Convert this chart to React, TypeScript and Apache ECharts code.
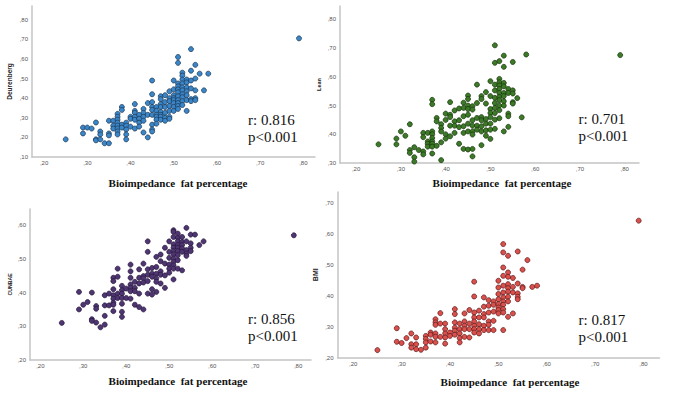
import React, { useEffect, useRef } from "react";
import * as echarts from "echarts";

// ---- Data ----
const xTicks = [0.2, 0.3, 0.4, 0.5, 0.6, 0.7, 0.8];
const xTitle = "Bioimpedance  fat percentage";

type Col = [number, number[]];

const deurenbergCols: Col[] = [
  [0.25, [0.19]], [0.29, [0.25, 0.22]], [0.30, [0.25]], [0.31, [0.245]],
  [0.32, [0.276, 0.19, 0.185]], [0.33, [0.23, 0.215, 0.19]], [0.34, [0.17]],
  [0.35, [0.17, 0.22, 0.21, 0.285]], [0.36, [0.285, 0.26, 0.245]],
  [0.37, [0.32, 0.305, 0.29, 0.275, 0.26, 0.245, 0.23, 0.215]],
  [0.38, [0.355, 0.34, 0.265, 0.25]], [0.39, [0.275, 0.26, 0.24, 0.215, 0.19]],
  [0.40, [0.305, 0.295, 0.255]], [0.41, [0.37, 0.335, 0.325, 0.305, 0.29, 0.245]],
  [0.42, [0.315, 0.295, 0.275, 0.255]], [0.43, [0.345, 0.325, 0.305, 0.285, 0.225]],
  [0.44, [0.375, 0.315, 0.2]], [0.45, [0.49, 0.42, 0.38, 0.355, 0.34, 0.315, 0.265, 0.24, 0.23]],
  [0.46, [0.355, 0.335, 0.315, 0.305, 0.29, 0.27]],
  [0.47, [0.41, 0.395, 0.37, 0.355, 0.33, 0.315, 0.305, 0.29]],
  [0.48, [0.415, 0.38, 0.355, 0.325, 0.3, 0.285]],
  [0.49, [0.435, 0.4, 0.385, 0.36, 0.335, 0.305, 0.295]],
  [0.50, [0.49, 0.445, 0.415, 0.4, 0.39, 0.375, 0.355, 0.335]],
  [0.51, [0.61, 0.58, 0.475, 0.46, 0.445, 0.43, 0.41, 0.39, 0.375, 0.36, 0.345]],
  [0.52, [0.53, 0.515, 0.495, 0.475, 0.455, 0.44, 0.42, 0.405, 0.385, 0.365]],
  [0.53, [0.495, 0.48, 0.455, 0.435, 0.415, 0.39, 0.335]],
  [0.54, [0.65, 0.54, 0.49, 0.45, 0.395, 0.385]], [0.55, [0.57, 0.5, 0.44, 0.4, 0.39]],
  [0.56, [0.525]], [0.57, [0.44]], [0.58, [0.525]], [0.79, [0.705]],
];

const leanCols: Col[] = [
  [0.25, [0.365]], [0.29, [0.385, 0.365]], [0.30, [0.41]], [0.31, [0.395]],
  [0.32, [0.435, 0.345, 0.335]], [0.33, [0.355, 0.32, 0.305]], [0.34, [0.345]],
  [0.35, [0.405, 0.39, 0.34, 0.33]], [0.36, [0.405, 0.375, 0.367, 0.357]],
  [0.37, [0.52, 0.505, 0.41, 0.4, 0.387, 0.375, 0.367, 0.357, 0.333]],
  [0.38, [0.457, 0.445, 0.36]], [0.39, [0.435, 0.422, 0.41, 0.372, 0.31]],
  [0.40, [0.472, 0.45, 0.4, 0.385]], [0.41, [0.512, 0.468, 0.46, 0.43, 0.393]],
  [0.42, [0.483, 0.445, 0.43, 0.405]], [0.43, [0.49, 0.449, 0.425, 0.367]],
  [0.44, [0.51, 0.492, 0.463, 0.428, 0.405, 0.349]],
  [0.45, [0.535, 0.523, 0.5, 0.488, 0.468, 0.437, 0.41, 0.347]],
  [0.46, [0.498, 0.486, 0.449, 0.43, 0.41, 0.399, 0.349, 0.323]],
  [0.47, [0.573, 0.509, 0.457, 0.43, 0.416]],
  [0.48, [0.533, 0.523, 0.46, 0.449, 0.428, 0.41, 0.362]],
  [0.49, [0.547, 0.507, 0.453, 0.437, 0.414, 0.395]],
  [0.50, [0.585, 0.533, 0.488, 0.474, 0.46, 0.437, 0.416, 0.384]],
  [0.51, [0.71, 0.649, 0.573, 0.553, 0.527, 0.509, 0.492, 0.474, 0.451, 0.419]],
  [0.52, [0.655, 0.593, 0.581, 0.57, 0.558, 0.544, 0.53, 0.519, 0.5, 0.484, 0.456]],
  [0.53, [0.674, 0.635, 0.579, 0.567, 0.544, 0.533, 0.515, 0.5, 0.41]],
  [0.54, [0.558, 0.544, 0.472, 0.463, 0.426]],
  [0.55, [0.652, 0.553, 0.542, 0.512, 0.507]],
  [0.56, [0.526]], [0.57, [0.459]], [0.58, [0.678]], [0.79, [0.676]],
];

const cunbaeCols: Col[] = [
  [0.25, [0.31]], [0.29, [0.402, 0.35]], [0.30, [0.364]], [0.31, [0.372]],
  [0.32, [0.4, 0.321, 0.316]], [0.33, [0.36, 0.352, 0.311]], [0.34, [0.297]],
  [0.35, [0.392, 0.362, 0.331, 0.305]], [0.36, [0.397, 0.362]],
  [0.37, [0.444, 0.434, 0.41, 0.392, 0.382, 0.37, 0.364, 0.345]],
  [0.38, [0.471, 0.447, 0.397, 0.384]],
  [0.39, [0.42, 0.407, 0.397, 0.384, 0.367, 0.343, 0.328]],
  [0.40, [0.412, 0.384]], [0.41, [0.483, 0.463, 0.444, 0.424, 0.414, 0.404, 0.382]],
  [0.42, [0.432, 0.414, 0.404, 0.364]], [0.43, [0.469, 0.444, 0.427, 0.397, 0.357]],
  [0.44, [0.486, 0.449, 0.442, 0.43, 0.35]],
  [0.45, [0.552, 0.521, 0.469, 0.453, 0.434, 0.397]],
  [0.46, [0.473, 0.456, 0.447, 0.41, 0.394]],
  [0.47, [0.506, 0.476, 0.456, 0.442, 0.432, 0.402]],
  [0.48, [0.513, 0.493, 0.463, 0.453, 0.427]],
  [0.49, [0.533, 0.486, 0.451, 0.414]],
  [0.50, [0.552, 0.521, 0.503, 0.483, 0.471, 0.459]],
  [0.51, [0.585, 0.58, 0.565, 0.543, 0.533, 0.523, 0.513, 0.501, 0.491, 0.481, 0.471, 0.439]],
  [0.52, [0.575, 0.562, 0.552, 0.541, 0.533, 0.523, 0.511, 0.496, 0.471]],
  [0.53, [0.565, 0.55, 0.541, 0.531, 0.521, 0.466]],
  [0.54, [0.592, 0.552, 0.526, 0.516, 0.509]],
  [0.55, [0.572, 0.546, 0.533, 0.523]],
  [0.56, [0.572]], [0.57, [0.541]], [0.58, [0.552]], [0.79, [0.57]],
];

const bmiCols: Col[] = [
  [0.25, [0.224]], [0.29, [0.295, 0.251]], [0.30, [0.247]], [0.31, [0.263]],
  [0.32, [0.278, 0.243, 0.232]], [0.33, [0.265, 0.243, 0.227]], [0.34, [0.225]],
  [0.35, [0.27, 0.26, 0.249, 0.232]], [0.36, [0.281, 0.274, 0.252]],
  [0.37, [0.324, 0.314, 0.306, 0.278, 0.267, 0.249]], [0.38, [0.344, 0.31, 0.267]],
  [0.39, [0.31, 0.292, 0.278, 0.265, 0.245]], [0.40, [0.281, 0.27]],
  [0.41, [0.357, 0.341, 0.314, 0.297, 0.287, 0.274]],
  [0.42, [0.31, 0.292, 0.278, 0.263, 0.249]], [0.43, [0.343, 0.317, 0.303, 0.292, 0.267]],
  [0.44, [0.354, 0.31, 0.292, 0.265]],
  [0.45, [0.446, 0.398, 0.346, 0.33, 0.317, 0.303, 0.292, 0.281]],
  [0.46, [0.352, 0.33, 0.308, 0.292, 0.278]],
  [0.47, [0.395, 0.365, 0.341, 0.33, 0.303, 0.289]],
  [0.48, [0.386, 0.368, 0.346, 0.317, 0.306, 0.289]],
  [0.49, [0.382, 0.371, 0.349, 0.319, 0.289]],
  [0.50, [0.449, 0.427, 0.406, 0.389, 0.373, 0.362, 0.354, 0.343]],
  [0.51, [0.568, 0.541, 0.492, 0.465, 0.433, 0.411, 0.395, 0.382, 0.371, 0.357, 0.346, 0.289]],
  [0.52, [0.53, 0.476, 0.462, 0.438, 0.425, 0.414, 0.397, 0.382, 0.332]],
  [0.53, [0.458, 0.429, 0.411, 0.343]], [0.54, [0.544, 0.44, 0.408, 0.397, 0.389]],
  [0.55, [0.485, 0.429, 0.425]], [0.56, [0.516]], [0.57, [0.429]], [0.58, [0.433]],
  [0.79, [0.644]],
];

const yTicksDeurenberg = [0.1, 0.2, 0.3, 0.4, 0.5, 0.6, 0.7, 0.8];
const yTicksLean = [0.3, 0.4, 0.5, 0.6, 0.7, 0.8];
const yTicksCunbae = [0.2, 0.3, 0.4, 0.5, 0.6];
const yTicksBmi = [0.2, 0.3, 0.4, 0.5, 0.6, 0.7];

const rValues = ["r: 0.816", "r: 0.701", "r: 0.856", "r: 0.817"];
const pValues = ["p<0.001", "p<0.001", "p<0.001", "p<0.001"];
const yNames = ["Deurenberg", "Lean", "CUNBAE", "BMI"];

// ---- Layout / style ----
const panels = [
  { grid: { left: 32, top: 6, width: 283, height: 151 }, x: [0.172, 0.827], y: [0.1, 0.87], yTicks: yTicksDeurenberg, cols: deurenbergCols, fill: "#3a86c9", border: "#1b3550", nameSize: 6.5, nameGap: 19, title: [178, 183], rp: [248, 120] },
  { grid: { left: 340, top: 6, width: 299, height: 157 }, x: [0.164, 0.832], y: [0.3, 0.847], yTicks: yTicksLean, cols: leanCols, fill: "#3c7a27", border: "#16300c", nameSize: 5.5, nameGap: 18, title: [502, 182.7], rp: [578.5, 119] },
  { grid: { left: 30, top: 209, width: 281, height: 151 }, x: [0.176, 0.83], y: [0.2, 0.648], yTicks: yTicksCunbae, cols: cunbaeCols, fill: "#4f3672", border: "#24163a", nameSize: 5.2, nameGap: 18, title: [178, 381.3], rp: [248, 318.7] },
  { grid: { left: 337.5, top: 192, width: 322, height: 165.5 }, x: [0.1675, 0.833], y: [0.2, 0.737], yTicks: yTicksBmi, cols: bmiCols, fill: "#d9504c", border: "#5a1515", nameSize: 7, nameGap: 19, title: [510, 382.3], rp: [578.5, 319.7] },
];

const fmt = (v: number) => "," + String(Math.round(v * 100)).padStart(2, "0");
const axisLineStyle = { color: "#c4c4c4", width: 1.5 };
const tickLabel = { fontSize: 6, color: "#555", fontFamily: "Liberation Sans" };

export default function App() {
  const ref = useRef<HTMLDivElement>(null);
  useEffect(() => {
    if (!ref.current) return;
    const chart = echarts.init(ref.current, undefined, { renderer: "svg" });
    const grid = panels.map((p) => p.grid);
    const xAxis = panels.map((p, i) => ({
      type: "value", gridIndex: i, min: p.x[0], max: p.x[1],
      axisLine: { show: true, onZero: false, lineStyle: axisLineStyle },
      axisTick: { show: false, customValues: xTicks },
      splitLine: { show: false },
      axisLabel: { ...tickLabel, margin: 3, customValues: xTicks, formatter: fmt },
    }));
    const yAxis = panels.map((p, i) => ({
      type: "value", gridIndex: i, min: p.y[0], max: p.y[1],
      name: yNames[i], nameLocation: "middle", nameRotate: 90, nameGap: p.nameGap,
      nameTextStyle: { fontSize: p.nameSize, fontWeight: "bold", color: "#222", fontFamily: "Liberation Sans" },
      axisLine: { show: true, onZero: false, lineStyle: axisLineStyle },
      axisTick: { show: false, customValues: p.yTicks },
      splitLine: { show: false },
      axisLabel: { ...tickLabel, margin: 4, customValues: p.yTicks, formatter: fmt },
    }));
    const series = panels.map((p, i) => ({
      type: "scatter", xAxisIndex: i, yAxisIndex: i,
      symbolSize: 5,
      itemStyle: { color: p.fill, borderColor: p.border, borderWidth: 0.7, opacity: 1 },
      data: p.cols.flatMap(([x, ys]) => ys.map((y) => [x, y])),
    }));
    const graphic: any[] = [];
    panels.forEach((p, i) => {
      graphic.push({
        type: "text", x: p.title[0], y: p.title[1],
        style: { text: xTitle, font: "bold 11px 'Liberation Serif'", fill: "#111", textAlign: "center", textVerticalAlign: "middle" },
      });
      graphic.push({
        type: "text", x: p.rp[0], y: p.rp[1],
        style: { text: rValues[i], font: "15px 'Liberation Serif'", fill: "#111", textAlign: "left", textVerticalAlign: "middle" },
      });
      graphic.push({
        type: "text", x: p.rp[0], y: p.rp[1] + 17,
        style: { text: pValues[i], font: "15px 'Liberation Serif'", fill: "#111", textAlign: "left", textVerticalAlign: "middle" },
      });
    });
    chart.setOption({ animation: false, backgroundColor: "#fff", grid, xAxis, yAxis, series, graphic });
    return () => chart.dispose();
  }, []);
  return <div ref={ref} style={{ position: "fixed", left: 0, top: 0, width: 677, height: 398, background: "#fff" }} />;
}
